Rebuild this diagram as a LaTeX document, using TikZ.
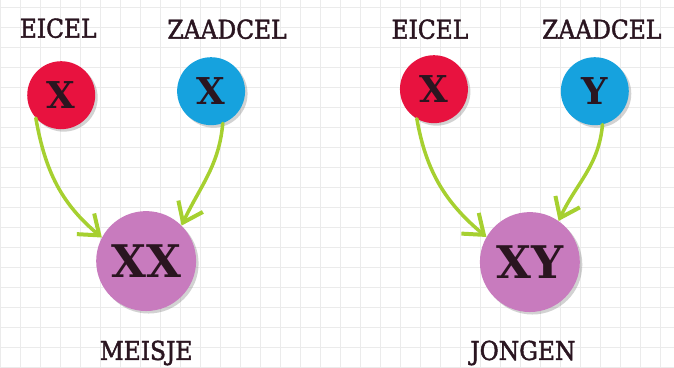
\documentclass[tikz,border=0pt]{standalone}
\usepackage{fontspec}
\usepackage{xcolor}
\usepackage{tikz}
\usetikzlibrary{positioning, arrows.meta, shadows}
\newfontfamily\labelfont{DejaVu Serif Condensed}[BoldFont=DejaVu Serif Condensed,BoldFeatures={FakeBold=1.6}]
\newfontfamily\cellfont{DejaVu Serif}
\definecolor{eired}{HTML}{E8123F}
\definecolor{zaadblue}{HTML}{16A2DE}
\definecolor{kindpurple}{HTML}{C87BBE}
\definecolor{arrowgreen}{HTML}{A6D030}
\definecolor{inkdark}{HTML}{2A1520}

\begin{document}
\begin{tikzpicture}[
  x=1pt, y=1pt,
  cell/.style={circle,minimum size=68pt,inner sep=0pt,font=\cellfont\bfseries\fontsize{37}{37}\selectfont,text=inkdark,
    drop shadow={shadow xshift=2.5pt,shadow yshift=-2.5pt,opacity=0.35}},
  egg/.style={cell,fill=eired},
  sperm/.style={cell,fill=zaadblue},
  child/.style={cell,fill=kindpurple,minimum size=100pt,font=\cellfont\bfseries\fontsize{45}{45}\selectfont},
  caption/.style={font=\labelfont\bfseries\fontsize{26}{26}\selectfont,text=inkdark},
  arrow/.style={-{Straight Barb[length=18pt,width=27pt,line width=4pt]},arrowgreen,line width=3.5pt,line cap=round},
]

% squared paper
\fill[white] (0,0) rectangle (674,367);
\draw[black!8,line width=0.5pt] (0,0) grid[step=20pt] (674,367);
\useasboundingbox (0,0) rectangle (674,367);

% meisje
\node[egg] (ei1) at (61,272) {X};
\node[sperm] (zaad1) at (211,276) {X};
\node[child] (meisje) at (146,106) {XX};
\node[caption] (ei1lbl) at (58,339) {EICEL};
\node[caption] (zaad1lbl) at (227,338) {ZAADCEL};
\node[caption] (meisjelbl) at (146,14) {MEISJE};

% jongen
\node[egg] (ei2) at (434,278) {X};
\node[sperm] (zaad2) at (595,276) {Y};
\node[child] (jongen) at (530,105) {XY};
\node[caption] (ei2lbl) at (430,338) {EICEL};
\node[caption] (zaad2lbl) at (602,338) {ZAADCEL};
\node[caption] (jongenlbl) at (523,14) {JONGEN};

\draw[arrow] (ei1.222) to[out=-80,in=140] (meisje.152);
\draw[arrow] (zaad1.290) to[out=-95,in=65] (meisje.45);
\draw[arrow] (ei2.240) to[out=-80,in=140] (jongen.150);
\draw[arrow] (zaad2.283) to[out=-95,in=65] (jongen.55);

\end{tikzpicture}
\end{document}
